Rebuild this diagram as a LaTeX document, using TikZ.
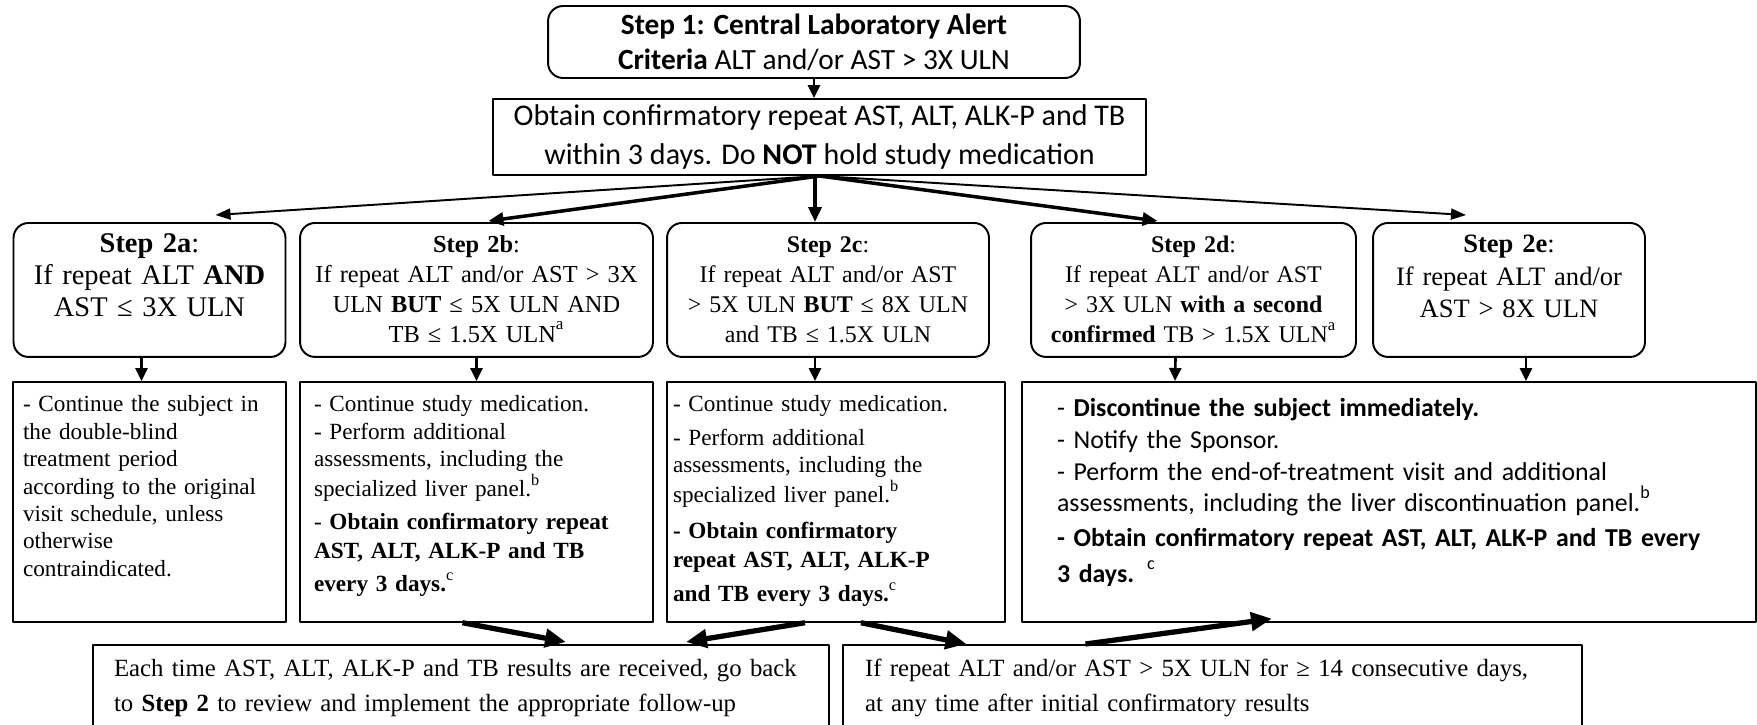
\documentclass[tikz,border=0pt]{standalone}
\usepackage{fontspec}
\setmainfont{Liberation Serif}
\newfontfamily\calibri{Carlito}
\usetikzlibrary{arrows.meta,calc}
\hyphenpenalty=10000
\newcommand{\supmark}[1]{\textsuperscript{\raisebox{0.2em}{#1}}}
\begin{document}
\begin{tikzpicture}[x=0.02cm,y=-0.02cm,line join=round,
	stepbox/.style={draw,line width=1.1pt,rounded corners=0.3cm,anchor=north,inner xsep=0.1cm,inner ysep=0pt,align=center,text height=0.6cm,text depth=2.08cm,text width=#1},
	listbox/.style={draw,line width=1pt,anchor=north,inner xsep=0.28cm,inner ysep=0pt,align=left,text height=0.6cm,text depth=4.2cm,text width=#1},
	tailbox/.style={draw,line width=1pt,anchor=north,inner xsep=0.42cm,inner ysep=0pt,align=left,text height=0.64cm,text depth=1.4cm,text width=#1},
	bigtxt/.style={font=\fontsize{16.2}{18}\selectfont},
	smalltxt/.style={font=\fontsize{13.6}{17}\selectfont},
	listtxt/.style={font=\fontsize{13.2}{15.6}\selectfont},
	tailtxt/.style={font=\fontsize{14.1}{19.8}\selectfont},
	fanthin/.style={-{Triangle[length=0.3cm,width=0.22cm]},line width=1.1pt},
	fanthick/.style={-{Triangle[length=0.3cm,width=0.26cm]},line width=2pt},
	godown/.style={-{Triangle[length=0.26cm,width=0.24cm]},line width=1.5pt},
	jump/.style={-{Triangle[length=0.42cm,width=0.36cm]},line width=3pt}]
	\useasboundingbox (0,0) rectangle (1757,724);
	\node[draw,line width=1.1pt,rounded corners=0.3cm,minimum width=10.64cm,minimum height=1.44cm,align=center,font=\calibri\fontsize{16.7}{19.8}\selectfont] (step1) at (814,42) {\textbf{Step 1: Central Laboratory Alert}\\\textbf{Criteria} ALT and/or AST > 3X ULN};
	\node[draw,line width=1.1pt,minimum width=13.06cm,minimum height=1.48cm,align=center,font=\calibri\fontsize{17.1}{22}\selectfont] (obtain) at (819.5,137) {Obtain confirmatory repeat AST, ALT, ALK-P and TB\\within 3 days. Do \textbf{NOT} hold study medication};
	\node[stepbox=5.24cm,bigtxt] (s2a) at (149.5,222) {\textbf{Step 2a}:\\If repeat ALT \textbf{AND}\\AST ≤ 3X ULN};
	\node[stepbox=6.86cm,smalltxt,font=\fontsize{13.9}{17}\selectfont] (s2b) at (476.5,222) {\textbf{Step 2b}:\\If repeat ALT and/or AST > 3X\\ULN \textbf{BUT} ≤ 5X ULN AND\\TB ≤ 1.5X ULN\supmark{a}};
	\node[stepbox=6.24cm,smalltxt] (s2c) at (828,222) {\textbf{Step 2c}:\\If repeat ALT and/or AST\\> 5X ULN \textbf{BUT} ≤ 8X ULN\\and TB ≤ 1.5X ULN};
	\node[stepbox=6.3cm,smalltxt] (s2d) at (1193.5,222) {\textbf{Step 2d}:\\If repeat ALT and/or AST\\> 3X ULN \textbf{with a second}\\\textbf{confirmed} TB > 1.5X ULN\supmark{a}};
	\node[stepbox=5.24cm,font=\fontsize{15.1}{18.5}\selectfont] (s2e) at (1509,222) {\textbf{Step 2e}:\\If repeat ALT and/or\\AST > 8X ULN};
	\node[listbox=5.06cm,listtxt,inner xsep=0.2cm] (l2a) at (149.5,381) {- Continue the subject in\\the double-blind\\treatment period\\according to the original\\visit schedule, unless\\otherwise\\contraindicated.};
	\node[listbox=6.5cm,listtxt] (l2b) at (476.5,381) {- Continue study medication.\\- Perform additional\\assessments, including the\\[1.5pt]specialized liver panel.\supmark{b}\\[3pt]- \textbf{Obtain confirmatory repeat}\\[1pt]\textbf{AST, ALT, ALK-P and TB}\\[3pt]\textbf{every 3 days.}\supmark{c}};
	\node[listbox=6.52cm,listtxt,inner xsep=0.12cm] (l2c) at (836,381) {- Continue study medication.\\[3.5pt]- Perform additional\\assessments, including the\\[1pt]specialized liver panel.\supmark{b}\\[5pt]\textbf{- Obtain confirmatory}\\[1pt]\textbf{repeat AST, ALT, ALK-P}\\[4pt]\textbf{and TB every 3 days.}\supmark{c}};
	\node[listbox=13.28cm,inner xsep=0.7cm,text height=0.7cm,text depth=4.1cm,font=\calibri\fontsize{14.7}{18}\selectfont] (l2de) at (1389,381) {- \textbf{Discontinue the subject immediately.}\\- Notify the Sponsor.\\- Perform the end-of-treatment visit and additional\\assessments, including the liver discontinuation panel.\supmark{b}\\[2pt]\textbf{- Obtain confirmatory repeat AST, ALT, ALK-P and TB every}\\[2pt]\textbf{3 days.} \supmark{c}};
	\node[tailbox=13.88cm,tailtxt] (bl) at (461,644) {Each time AST, ALT, ALK-P and TB results are received, go back\\to \textbf{Step 2} to review and implement the appropriate follow-up};
	\node[tailbox=13.9cm,tailtxt,inner xsep=0.44cm] (br) at (1212.5,644) {If repeat ALT and/or AST > 5X ULN for ≥ 14 consecutive days,\\at any time after initial confirmatory results};
	\draw[godown] (step1.south) -- (step1.south |- obtain.north);
	\draw[fanthin] (obtain.south) -- ($(s2a.north)+(66,-7)$);
	\draw[fanthick] (obtain.south) -- ($(s2b.north)+(12,-1)$);
	\draw[fanthick] ($(obtain.south)+(-4.5,0)$) -- ($(s2c.north)+(-13,0)$);
	\draw[fanthick] (obtain.south) -- ($(s2d.north)+(-36,-1)$);
	\draw[fanthin] (obtain.south) -- ($(s2e.north)+(-43,-7)$);
	\draw[godown] ($(s2a.south)+(-8,0)$) -- ($(l2a.north)+(-8,0)$);
	\draw[godown] (s2b.south) -- (l2b.north);
	\draw[godown] ($(s2c.south)+(-13,0)$) -- ($(l2c.north)+(-21,0)$);
	\draw[godown] ($(s2d.south)+(-18,0)$) -- ($(l2de.north)+(-214,0)$);
	\draw[godown] ($(s2e.south)+(17,0)$) -- ($(l2de.north)+(137,0)$);
	\draw[jump] ($(l2b.south)+(-14,0)$) -- ($(bl.north)+(105,-2)$);
	\draw[jump] ($(l2c.south)+(-31,0)$) -- ($(bl.north)+(225,-2)$);
	\draw[jump] ($(l2c.south)+(25,0)$) -- ($(br.north)+(-246,0)$);
	\draw[jump] ($(br.north)+(-127,0)$) -- ($(l2de.south)+(-117,-4)$);
\end{tikzpicture}
\end{document}
